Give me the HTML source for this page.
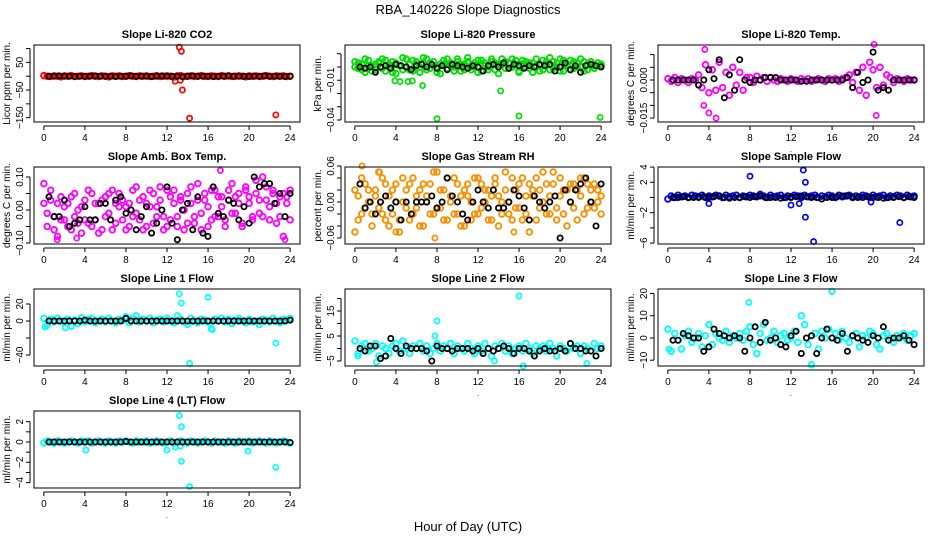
<!DOCTYPE html>
<html><head><meta charset="utf-8">
<style>
html,body{margin:0;padding:0;background:#fff;}
svg{display:block;font-family:"Liberation Sans",Arial,sans-serif;}
</style></head>
<body>
<svg id="chart" width="936" height="540" viewBox="0 0 936 540">
<text x="468" y="14" text-anchor="middle" font-size="13">RBA_140226  Slope Diagnostics</text>
<text x="468" y="531" text-anchor="middle" font-size="13">Hour of Day (UTC)</text>
</svg>
<script>
const xTicks=[0,4,8,12,16,20,24];
const hoursC=[0,0.33,0.67,1,1.33,1.67,2,2.33,2.67,3,3.33,3.67,4,4.33,4.67,5,5.33,5.67,6,6.33,6.67,7,7.33,7.67,8,8.33,8.67,9,9.33,9.67,10,10.33,10.67,11,11.33,11.67,12,12.33,12.67,13,13.33,13.67,14,14.33,14.67,15,15.33,15.67,16,16.33,16.67,17,17.33,17.67,18,18.33,18.67,19,19.33,19.67,20,20.33,20.67,21,21.33,21.67,22,22.33,22.67,23,23.33,23.67,24];
const hoursB=[0.5,1,1.5,2,2.5,3,3.5,4,4.5,5,5.5,6,6.5,7,7.5,8,8.5,9,9.5,10,10.5,11,11.5,12,12.5,13,13.5,14,14.5,15,15.5,16,16.5,17,17.5,18,18.5,19,19.5,20,20.5,21,21.5,22,22.5,23,23.5,24];

const co2Color=[2,0,-1,1,0,-2,1,0,2,-1,0,1,-1,0,2,0,-1,1,0,-2,1,0,1,-1,0,2,0,-1,1,0,1,-1,0,2,-1,0,1,0,-3,1,2,-1,0,1,-1,0,2,0,-1,1,0,-1,2,0,1,-1,0,1,0,-2,1,0,1,-1,0,2,0,-1,1,0,1,-1,0];
const co2Black=[0,0,1,0,0,-1,0,0,0,1,0,0,0,-1,0,0,1,0,0,0,-1,0,1,0,0,0,-2,0,1,0,0,0,-1,0,0,1,0,0,0,-1,0,0,1,0,0,0,-1,0];
const co2OutH=[12.8,13.2,13.3,13.4,13.5,14.2,22.6];
const co2OutV=[-18,105,-15,90,-50,-152,-140];

const presColor=[0.000,0.003,-0.002,0.006,0.001,-0.003,0.002,0.004,-0.001,0.005,0.000,-0.004,0.003,0.001,-0.002,0.006,0.002,-0.003,0.004,0.000,0.007,-0.002,0.003,0.001,-0.004,0.002,0.005,-0.001,0.003,0.000,0.006,-0.003,0.002,0.004,-0.002,0.001,0.005,-0.003,0.003,0.000,0.004,-0.002,0.002,0.006,-0.001,0.003,0.000,0.005,-0.004,0.002,0.004,-0.001,0.003,0.001,-0.003,0.005,0.002,-0.002,0.004,0.000,0.006,-0.003,0.002,0.005,-0.001,0.003,0.000,0.004,-0.002,0.002,0.001,0.003,0.002];
const presColor2=[0.004,-0.001,0.002,-0.004,0.005,0.001,-0.002,0.003,0.006,-0.003,0.002,0.004,-0.005,0.001,0.007,0.000,-0.002,0.005,0.002,-0.004,0.003,0.006,-0.001,0.004,0.000,-0.005,0.002,0.006,0.001,-0.003,0.004,0.002,-0.002,0.007,0.000,0.003,-0.004,0.005,0.001,-0.002,0.006,0.003,-0.005,0.002,0.004,-0.001,0.006,0.002,-0.003,0.005,0.000,0.003,-0.004,0.006,0.001,-0.002,0.004,0.007,-0.001,0.003,-0.003,0.005,0.001,-0.002,0.004,0.000,0.006,-0.003,0.002,0.004,-0.001,0.003,0.001];
const presBlack=[0.000,-0.001,0.000,-0.004,0.000,0.001,-0.001,0.002,0.001,0.000,-0.002,0.001,0.002,0.000,0.002,-0.001,0.001,-0.002,0.002,0.001,0.000,-0.001,0.001,0.000,-0.003,0.001,0.002,0.000,0.003,-0.001,0.002,0.001,-0.001,0.001,0.000,0.002,0.001,0.002,-0.003,0.000,0.003,-0.002,0.001,-0.004,0.001,0.002,0.001,0.000];
const presOutH=[3.9,4.4,5.2,5.6,6.6,8,14.2,16,23.9];
const presOutV=[-0.0105,-0.011,-0.011,-0.0105,-0.014,-0.039,-0.018,-0.037,-0.038];

const tempColor=[0.0005,-0.0005,0.001,-0.001,0.0005,0,-0.001,0.0005,0,0.002,-0.003,0.006,-0.005,0.004,-0.004,0.007,-0.003,0.003,-0.006,0.005,-0.002,0.003,-0.004,0.001,0.001,-0.001,0.0015,0,0.001,-0.0005,0.001,0,-0.0005,0.0005,0,-0.0005,0.0005,0,-0.0005,0.0005,0,0.0005,-0.0005,0,0.0005,0,-0.0005,0.0005,0,0.0005,-0.0005,0.0005,0.001,0.002,-0.001,0.003,-0.004,0.005,-0.006,0.007,0.004,-0.003,0.005,-0.002,0.002,0.001,-0.001,0.0005,0,-0.0005,0.0005,0,0];
const tempBlack=[0,0,0,0,0,-0.002,0,0.004,0.0005,0.008,-0.007,0.002,-0.004,0.008,0,-0.001,0,0,0.001,0.001,0.001,0,0,0,0,-0.0005,-0.0005,0,0,0,0,0,0,0,0.001,-0.003,0.003,-0.001,0,0.011,-0.004,-0.003,-0.004,0,0,0,0,0];
const tempOutH=[3.6,4.0,4.7,20.1,20.3,3.5];
const tempOutV=[0.012,-0.013,-0.015,0.014,-0.014,-0.01];

const ambColor=[0.08,-0.01,0.03,-0.06,0.02,-0.03,0.01,-0.05,0.04,-0.02,0.00,-0.07,0.03,-0.04,0.05,-0.03,0.02,-0.06,0.04,-0.01,0.06,-0.04,0.01,0.03,-0.06,0.02,-0.02,0.07,-0.03,0.04,-0.05,0.01,0.05,-0.02,0.03,-0.06,0.06,-0.03,0.02,-0.05,0.04,0.00,-0.04,0.07,-0.02,0.03,-0.06,0.05,0.01,-0.03,0.06,-0.02,0.04,-0.05,0.03,0.08,-0.01,0.05,-0.04,0.06,0.02,-0.03,0.09,0.03,-0.02,0.07,0.01,0.05,-0.04,0.04,-0.08,0.02,0.06];
const ambColor2=[0.02,-0.05,0.06,-0.02,-0.08,0.04,-0.03,0.02,-0.06,0.05,-0.04,0.01,-0.03,0.06,-0.05,0.02,-0.07,0.03,-0.02,0.05,-0.06,0.02,0.05,-0.03,0.01,-0.05,0.06,-0.01,0.03,-0.06,0.02,0.06,-0.04,0.01,0.07,-0.02,-0.05,0.04,0.06,-0.02,0.03,-0.06,0.05,0.02,-0.04,0.08,-0.01,0.03,-0.05,0.06,-0.02,0.04,0.01,-0.03,0.06,-0.01,0.04,0.02,-0.05,0.07,0.04,-0.02,0.05,-0.01,0.10,0.03,-0.03,0.06,0.02,-0.02,0.05,0.04,-0.03];
const ambBlack=[0.04,-0.02,-0.02,0.03,-0.05,-0.04,-0.03,0.01,-0.03,-0.03,0.02,0.02,-0.03,0.03,0.04,-0.01,0.00,-0.06,-0.02,0.01,-0.07,-0.04,0.00,0.07,-0.04,-0.09,0.00,0.02,-0.06,0.04,-0.07,-0.08,0.07,-0.01,-0.02,0.03,0.02,-0.03,0.01,-0.04,0.10,0.07,0.08,0.08,0.02,0.05,-0.02,0.05];
const ambOutH=[1.3,17.2,23.5,3.2];
const ambOutV=[-0.09,0.12,-0.09,-0.085];

const rhColor=[-0.05,0.01,-0.02,0.03,0.00,-0.04,0.02,-0.01,0.04,-0.03,0.01,-0.02,0.03,-0.05,0.00,0.02,-0.03,0.04,-0.01,0.02,-0.04,0.01,0.03,-0.02,0.05,-0.01,0.02,-0.03,0.00,0.04,-0.02,0.01,-0.04,0.03,0.00,-0.02,0.04,-0.01,0.02,-0.03,0.01,0.03,-0.04,0.00,0.02,-0.02,0.04,-0.01,0.03,-0.03,0.01,-0.05,0.02,0.04,-0.01,0.00,0.03,-0.02,0.05,-0.03,0.01,0.02,-0.04,0.03,-0.01,0.02,0.04,-0.02,0.03,0.00,-0.01,0.02,0.01];
const rhColor2=[0.02,-0.03,0.04,-0.01,0.02,-0.02,0.01,0.05,-0.02,0.03,-0.04,0.02,0.00,-0.03,0.04,-0.01,0.03,-0.02,0.01,-0.04,0.03,0.00,-0.02,0.05,-0.01,0.02,-0.03,0.04,0.01,-0.02,0.03,-0.04,0.02,0.01,-0.03,0.04,-0.02,0.03,0.00,0.02,-0.03,0.04,0.01,-0.02,0.05,0.00,-0.03,0.02,-0.01,0.04,-0.02,0.03,0.01,-0.03,0.02,0.05,-0.02,0.01,0.03,-0.01,0.04,-0.02,0.02,0.00,0.03,-0.03,0.01,0.04,-0.01,0.02,0.03,0.00,-0.02];
const rhBlack=[0.03,-0.01,0.00,-0.02,0.00,0.01,-0.01,0.00,-0.03,0.00,-0.02,0.00,0.00,0.00,0.01,-0.01,0.00,0.04,0.01,0.00,-0.02,-0.03,0.00,0.02,0.00,-0.01,0.02,-0.01,-0.01,0.00,0.02,0.01,-0.01,-0.03,0.01,0.00,-0.01,0.00,0.01,-0.06,0.02,0.00,0.02,0.03,0.04,0.00,-0.04,0.03];
const rhOutH=[0.7,7.8,15.5,4,2.4];
const rhOutV=[0.06,-0.06,-0.05,-0.05,0.05];

const sampColor=[-0.2,0.2,0.0,0.3,0.1,0.2,0.0,0.3,0.2,0.1,0.3,0.0,0.2,0.1,0.3,0.2,0.0,0.3,0.1,0.2,0.3,0.0,0.2,0.1,0.3,0.2,0.1,0.4,0.2,0.0,0.3,0.1,0.2,0.3,0.0,0.2,0.1,0.3,0.2,0.0,0.3,0.1,0.2,0.3,0.0,0.2,0.1,0.3,0.2,0.0,0.3,0.1,0.2,0.3,0.0,0.2,0.1,0.3,0.2,0.0,0.3,0.1,0.2,0.3,0.0,0.2,0.1,0.3,0.2,0.0,0.3,0.1,0.2];
const sampBlack=[0,0,0.1,0,0,0,0.1,0,0.1,0.2,0,-0.1,0,0,0.1,0,0.1,0.2,0,0,0,-0.1,0,0,0.1,0.2,0.1,0,0,-0.2,0,0,0.1,0.2,0.2,0.1,0,0,0.1,0,0,-0.1,0,0,0.1,0,0.1,0];
const sampOutH=[4,8,12,12.8,13.2,13.4,13.4,14.2,19.8,22.6];
const sampOutV=[-0.8,2.8,-1,-0.8,3.6,2,-2.6,-5.8,-0.6,-3.3];

const l1Color=[3,-5,2,-1,3,0,-2,2,-6,1,-3,4,-1,2,3,-2,0,2,-1,3,0,-2,2,1,5,-2,3,6,-1,2,0,3,-2,1,2,-1,3,0,-2,6,2,-1,-4,3,0,-2,2,1,-1,-9,2,0,3,-1,2,-3,1,3,0,-2,2,-1,0,-4,2,1,-1,3,0,-2,2,1,3];
const l1Black=[0,0,0,0,0,0,0,1,0,0,0,0,0,0,0,3,0,0,0,0,0,0,0,0,0,0,0,0,0,0,0,0,0,0,0,0,0,0,0,0,0,0,0,0,0,0,0,1];
const l1OutH=[0.1,2.1,13.2,13.4,14.2,16,16.4,22.6];
const l1OutV=[-7,-8,32,21,-50,28,-10,-26];

const l2Color=[3,-2,1,2,-1,0,2,-3,1,0,-2,1,2,-1,3,0,-2,1,0,2,-1,1,-2,0,2,-1,1,0,2,-2,1,0,-1,2,0,-2,1,-1,2,0,-3,1,0,2,-1,1,-2,0,1,-1,2,0,-2,1,0,1,-1,2,0,-3,1,0,-1,2,0,1,-2,1,0,-1,2,0,1];
const l2Black=[0,-1,1,1,-4,-3,4,0,-2,1,0,0,0,-1,-5,1,0,0,-1,0,0,0,-1,0,-2,0,-1,0,1,0,-2,0,0,-1,-3,-1,0,-1,-1,0,-1,2,0,0,-1,-1,-3,0];
const l2OutH=[0.3,8,16,16.4,13.6,22.6,2.1,7.8];
const l2OutV=[-3,11,21,-7,-5,-6,-5.5,5];

const l3Color=[4,-6,2,-1,-5,1,3,-2,0,2,-4,1,6,-3,2,0,-1,3,-2,1,0,2,-1,3,5,-3,-7,2,6,-1,0,3,-2,1,2,-1,0,3,-2,10,6,-3,-12,2,-5,3,0,4,21,2,-1,3,0,-2,1,2,-4,1,0,3,2,-3,-5,1,2,0,-2,1,0,2,-1,1,2];
const l3Black=[-1,-1,2,1,0,0,-6,-4,4,2,1,0,1,0,-6,0,5,-2,7,-1,0,-3,-4,1,3,-7,0,1,-7,0,4,0,-1,2,-6,1,0,-1,-2,1,0,5,-1,0,0,1,-1,-3];
const l3OutH=[7.9,0.1];
const l3OutV=[16,-5];

const l4Color=[-0.1,0.1,0,-0.1,0.1,0,-0.1,0,0.1,0,-0.1,0.1,0,0.1,-0.1,0,0.1,0,-0.1,0.1,0,-0.1,0.1,0,0.1,0,-0.1,0.1,0,0,0.1,-0.1,0,0.1,0,-0.1,0,0.1,-0.1,0,0.1,0,-0.1,0.1,0,-0.1,0,0.1,0,-0.1,0.1,0,0,-0.1,0.1,0,-0.1,0.1,0,0,0.1,-0.1,0,0.1,0,-0.1,0.1,0,-0.1,0,0.1,0,-0.1];
const l4Black=[0,0,0,0,0,0,0,0,0,0,0,0,0,0,0,0.05,0,0,0,0,0,0,0,0,0,0,0,0,0,0,0,0,0,0,0,0,0,0,0,0,0,0,0,0,0,0,0,-0.05];
const l4OutH=[4.1,12,12.8,13.2,13.3,13.4,13.4,14.2,19.9,22.6];
const l4OutV=[-0.8,-0.8,-0.5,2.6,-0.4,1.5,-1.9,-4.4,-0.9,-2.5];

const panels=[
 {id:'co2',title:'Slope Li-820 CO2',ylab:'Licor ppm per min.',col:0,row:0,ymax:112.8,ymin:-165.6,ticks:[-150,-100,-50,0,50,100],labels:{'-150':'-150','-50':'-50','50':'50'},color:'#ff0000',series:[co2Color],black:co2Black,oh:co2OutH,ov:co2OutV},
 {id:'pressure',title:'Slope Li-820 Pressure',ylab:'kPa per min.',col:1,row:0,ymax:0.0166,ymin:-0.0415,ticks:[-0.04,-0.03,-0.02,-0.01,0,0.01],labels:{'-0.04':'-0.04','-0.01':'-0.01'},color:'#00e000',series:[presColor,presColor2],black:presBlack,oh:presOutH,ov:presOutV},
 {id:'temp',title:'Slope Li-820 Temp.',ylab:'degrees C per min.',col:2,row:0,ymax:0.01378,ymin:-0.01654,ticks:[-0.015,-0.01,-0.005,0,0.005,0.01],labels:{'-0.015':'-0.015','0':'0.000'},color:'#ff00ff',series:[tempColor],black:tempBlack,oh:tempOutH,ov:tempOutV},
 {id:'amb',title:'Slope Amb. Box Temp.',ylab:'degrees C per min.',col:0,row:1,ymax:0.1303,ymin:-0.103,ticks:[-0.1,-0.05,0,0.05,0.1],labels:{'-0.1':'-0.10','0':'0.00','0.1':'0.10'},color:'#ff00ff',series:[ambColor,ambColor2],black:ambBlack,oh:ambOutH,ov:ambOutV},
 {id:'rh',title:'Slope Gas Stream RH',ylab:'percent per min.',col:1,row:1,ymax:0.0583,ymin:-0.07,ticks:[-0.06,-0.04,-0.02,0,0.02,0.04,0.06],labels:{'-0.06':'-0.06','0':'0.00','0.06':'0.06'},color:'#f59000',series:[rhColor,rhColor2],black:rhBlack,oh:rhOutH,ov:rhOutV},
 {id:'sample',title:'Slope Sample Flow',ylab:'ml/min per min.',col:2,row:1,ymax:4.01,ymin:-6.12,ticks:[-6,-4,-2,0,2,4],labels:{'-6':'-6','-2':'-2','2':'2','4':'4'},color:'#0000ff',series:[sampColor],black:sampBlack,oh:sampOutH,ov:sampOutV},
 {id:'line1',title:'Slope Line 1 Flow',ylab:'ml/min per min.',col:0,row:2,ymax:37.6,ymin:-52.9,ticks:[-40,-20,0,20],labels:{'-40':'-40','0':'0','20':'20'},color:'#00ffff',series:[l1Color],black:l1Black,oh:l1OutH,ov:l1OutV},
 {id:'line2',title:'Slope Line 2 Flow',ylab:'ml/min per min.',col:1,row:2,ymax:23.8,ymin:-7,ticks:[-5,0,5,10,15,20],labels:{'-5':'-5','5':'5','15':'15'},color:'#00ffff',series:[l2Color],black:l2Black,oh:l2OutH,ov:l2OutV},
 {id:'line3',title:'Slope Line 3 Flow',ylab:'ml/min per min.',col:2,row:2,ymax:22,ymin:-12.6,ticks:[-10,0,10,20],labels:{'-10':'-10','0':'0','10':'10','20':'20'},color:'#00ffff',series:[l3Color],black:l3Black,oh:l3OutH,ov:l3OutV},
 {id:'line4',title:'Slope Line 4 (LT) Flow',ylab:'ml/min per min.',col:0,row:3,ymax:3.05,ymin:-4.53,ticks:[-4,-3,-2,-1,0,1,2],labels:{'-4':'-4','-2':'-2','0':'0','2':'2'},color:'#00ffff',series:[l4Color],black:l4Black,oh:l4OutH,ov:l4OutV}
];
const colLeft=[34,345,658], rowTop=[45,167,289,411], boxW=266, boxH=77;
const NS='http://www.w3.org/2000/svg';
const svg=document.getElementById('chart');
function mk(tag,attrs,parent){const e=document.createElementNS(NS,tag);for(const k in attrs)e.setAttribute(k,attrs[k]);(parent||svg).appendChild(e);return e;}

panels.forEach(p=>{
 const L=colLeft[p.col],T=rowTop[p.row];
 const xs=h=>L+(h+0.96)/25.92*boxW;
 const ys=v=>T+(p.ymax-v)/(p.ymax-p.ymin)*boxH;
 const g=mk('g',{});
 
 
 const t=mk('text',{x:L+boxW/2,y:T-7,'text-anchor':'middle','font-size':'11','font-weight':'bold'},g);
 t.textContent=p.title;
 
 
 const yl=mk('text',{x:0,y:0,'text-anchor':'middle','font-size':'10',transform:`translate(${L-24},${T+boxH/2}) rotate(-90)`},g);
 yl.textContent=p.ylab;
 
 
 const clip=mk('g',{},g);
 
 
 p.series.forEach(arr=>{
  arr.forEach((v,i)=>{
   const c=mk('circle',{cx:xs(hoursC[i]).toFixed(1),cy:ys(v).toFixed(1),r:2.8,fill:'none',stroke:p.color,'stroke-width':1.9},clip);
   
   
  });
 });
 p.oh.forEach((h,i)=>{
  const c=mk('circle',{cx:xs(h).toFixed(1),cy:ys(p.ov[i]).toFixed(1),r:2.6,fill:'none',stroke:p.color,'stroke-width':1.7},clip);
  
  
 });
 p.black.forEach((v,i)=>{
  const c=mk('circle',{cx:xs(hoursB[i]).toFixed(1),cy:ys(v).toFixed(1),r:2.6,fill:'none',stroke:'#000','stroke-width':1.8},clip);
  
  
 });
 const box=mk('rect',{x:L,y:T,width:boxW,height:boxH,fill:'none',stroke:'#000','stroke-width':1},g);
 
 
 const ax=T+boxH+4;
 const xl=mk('line',{x1:xs(0),y1:ax,x2:xs(24),y2:ax,stroke:'#000'},g);
 
 
 xTicks.forEach(tv=>{
  mk('line',{x1:xs(tv),y1:ax,x2:xs(tv),y2:ax+4,stroke:'#000'},g);
  const tl=mk('text',{x:xs(tv),y:ax+15,'text-anchor':'middle','font-size':'10'},g);
  tl.textContent=tv;
  
  
 });
 const dot=mk('text',{x:L+boxW/2,y:ax+26,'text-anchor':'middle','font-size':'8'},g);
 dot.textContent='.';
 
 
 const axx=L-4;
 const yv=p.ticks;
 const ya=mk('line',{x1:axx,y1:ys(yv[0]),x2:axx,y2:ys(yv[yv.length-1]),stroke:'#000'},g);
 
 
 yv.forEach(tv=>{
  mk('line',{x1:axx-4,y1:ys(tv),x2:axx,y2:ys(tv),stroke:'#000'},g);
  const lab=p.labels[String(tv)];
  if(lab!==undefined){
   const tl=mk('text',{x:0,y:0,'text-anchor':'middle','font-size':'10',transform:`translate(${axx-7},${ys(tv)}) rotate(-90)`},g);
   tl.textContent=lab.replace('-','\u2212');
   
   
  }
 });
});
</script>
</body></html>
